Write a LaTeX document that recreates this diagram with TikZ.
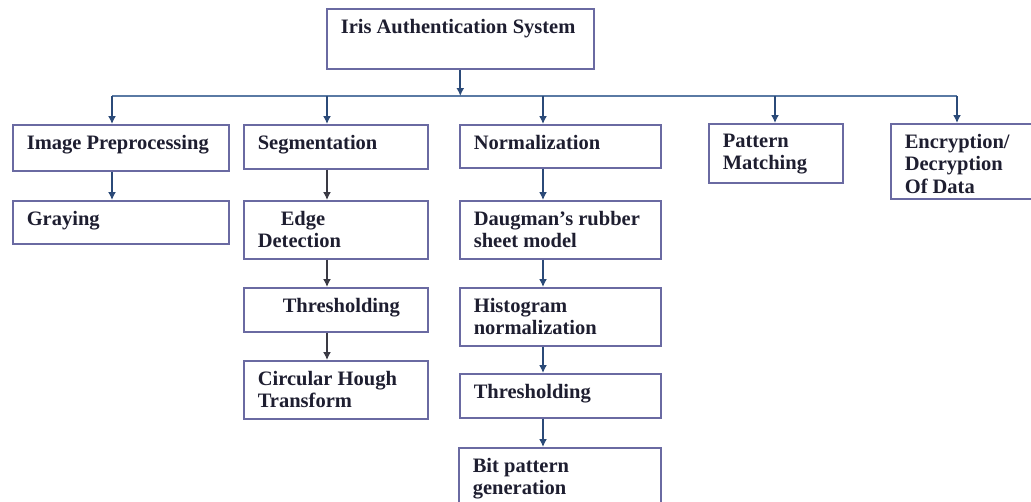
\documentclass[tikz,border=0pt]{standalone}
\usepackage{fontspec}
\setmainfont{Liberation Serif}
\usetikzlibrary{arrows.meta}
\definecolor{boxline}{HTML}{6A6AA2}
\definecolor{busline}{HTML}{5A7AA4}
\definecolor{arrline}{HTML}{2B4A78}
\definecolor{segline}{HTML}{3A3A44}
\definecolor{txtcol}{HTML}{1E1E30}
\tikzset{
  blk/.style 2 args={draw=boxline, line width=1.6pt, anchor=north west, inner sep=0pt, text=txtcol,
    execute at begin node={\begin{minipage}[t][#2][t]{#1}\bfseries\fontsize{20.5}{22.5}\selectfont\raggedright\leftskip=14pt\vspace*{10pt}},
    execute at end node={\end{minipage}}},
  link/.style={arrline, line width=1.5pt, -{Latex[length=8pt,width=8pt]}},
}
\begin{document}
\begin{tikzpicture}[x=1pt,y=-1pt]
\useasboundingbox (0,0) rectangle (1031,501);

% root
\node[blk={267pt}{60pt}] (sys) at (326,8) {Iris Authentication System};

% first level
\node[blk={216pt}{46pt}] (prep) at (12,124) {Image Preprocessing};
\node[blk={184pt}{44pt}] (seg) at (243,124) {Segmentation};
\node[blk={201pt}{43pt}] (norm) at (459,124) {Normalization};
\node[blk={134pt}{59pt}] (match) at (708,123) {Pattern\\Matching};
\node[blk={150pt}{75pt}] (crypt) at (890,123) {Encryption/\\Decryption\\Of Data};

% image preprocessing
\node[blk={216pt}{43pt}] (gray) at (12,200) {Graying};

% segmentation
\node[blk={184pt}{58pt}] (edge) at (243,200) {\hspace*{23pt}Edge\\Detection};
\node[blk={184pt}{44pt}] (thrseg) at (243,287) {\hspace*{25pt}Thresholding};
\node[blk={184pt}{58pt}] (hough) at (243,360) {Circular Hough\\Transform};

% normalization
\node[blk={201pt}{58pt}] (daug) at (459,200) {Daugman's rubber\\sheet model};
\node[blk={201pt}{58pt}] (hist) at (459,287) {Histogram\\normalization};
\node[blk={201pt}{44pt}] (thrnorm) at (459,373) {Thresholding};
\node[blk={202pt}{64pt}] (bitgen) at (458,447) {Bit pattern\\generation};

% bus
\coordinate (tapA) at (112,96);
\coordinate (tapB) at (327,96);
\coordinate (tapC) at (543,96);
\coordinate (tapD) at (775,96);
\coordinate (tapE) at (957,96);
\draw[busline, line width=1.6pt] (tapA) -- (tapE);
\draw[link, line width=2.2pt] (sys.south) -- (sys.south |- tapA);
\foreach \t/\n in {tapA/prep, tapB/seg, tapC/norm, tapD/match, tapE/crypt}{
	\draw[link] (\t) -- (\t |- \n.north);
}

% columns
\draw[link] (tapA |- prep.south) -- (tapA |- gray.north);
\foreach \a/\b in {seg/edge, edge/thrseg, thrseg/hough}{
	\draw[link, segline] (tapB |- \a.south) -- (tapB |- \b.north);
}
\foreach \a/\b in {norm/daug, daug/hist, hist/thrnorm, thrnorm/bitgen}{
	\draw[link] (tapC |- \a.south) -- (tapC |- \b.north);
}
\end{tikzpicture}
\end{document}
